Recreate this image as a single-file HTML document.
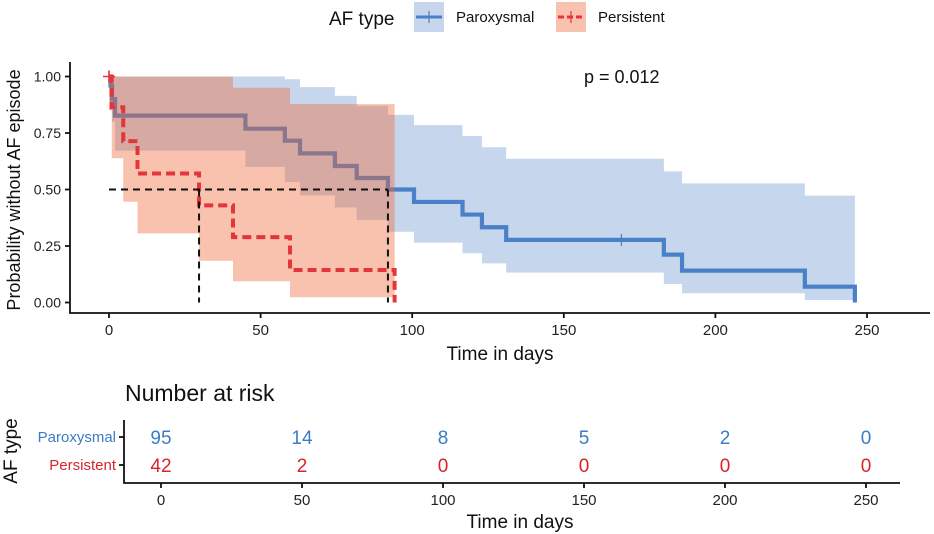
<!DOCTYPE html>
<html><head><meta charset="utf-8"><style>
body{margin:0;background:#fff;}
svg{display:block;font-family:"Liberation Sans",sans-serif;}
</style></head><body>
<svg id="c" width="934" height="534" viewBox="0 0 934 534">
<g id="legend">
  <text x="329" y="25" font-size="19" fill="#111">AF type</text>
  <g>
    <rect x="414" y="2" width="30" height="30" fill="rgb(199,214,237)"/>
    <line x1="416" y1="17" x2="442" y2="17" stroke="#4a80c8" stroke-width="3"/>
    <line x1="429" y1="11" x2="429" y2="23" stroke="#4a80c8" stroke-width="1.2"/>
    <text x="456" y="22" font-size="15" fill="#111">Paroxysmal</text>
  </g>
  <g>
    <rect x="556" y="2" width="30" height="30" fill="rgb(248,194,174)"/>
    <line x1="558" y1="17" x2="584" y2="17" stroke="#e8343a" stroke-width="3" stroke-dasharray="6,3"/>
    <line x1="571" y1="11" x2="571" y2="23" stroke="#e8343a" stroke-width="1.2"/>
    <text x="598" y="22" font-size="15" fill="#111">Persistent</text>
  </g>
</g>
<g id="plot"></g>
<g id="risk"></g>
</svg>
<script>
// Paroxysmal step data (time of level start, survival, CI)
const paraTimes = [0, 0.5, 1, 2, 45, 58, 63, 74.5, 81.7, 92, 100.6, 116.6, 123, 131, 183, 189, 229.5, 246];
const paraSurv  = [1, 0.96, 0.9, 0.827, 0.769, 0.716, 0.66, 0.604, 0.551, 0.5, 0.445, 0.389, 0.333, 0.277, 0.212, 0.141, 0.07, 0];
const paraUpper = [1, 1, 1, 1, 1, 0.988, 0.953, 0.914, 0.87, 0.83, 0.785, 0.737, 0.687, 0.636, 0.58, 0.527, 0.473, 0.439];
const paraLower = [1, 0.9, 0.8, 0.672, 0.6, 0.533, 0.474, 0.421, 0.365, 0.313, 0.265, 0.218, 0.173, 0.132, 0.082, 0.041, 0.011, 0];
const paraCensor = [0, 169];
// Persistent step data
const persTimes = [0, 0.9, 4.7, 9.4, 29.7, 40.9, 59.7, 94.2];
const persSurv  = [1, 0.864, 0.714, 0.571, 0.43, 0.289, 0.144, 0];
const persUpper = [1, 1, 1, 1, 1, 0.95, 0.878, 0.878];
const persLower = [0.85, 0.638, 0.446, 0.306, 0.185, 0.094, 0.023, 0.023];
const persCensor = [0];
const xTicks = [0, 50, 100, 150, 200, 250];
const yTicks = [0, 0.25, 0.5, 0.75, 1];
const yTickLabels = ["0.00", "0.25", "0.50", "0.75", "1.00"];
const riskPara = [95, 14, 8, 5, 2, 0];
const riskPers = [42, 2, 0, 0, 0, 0];
const medianTimes = [29.7, 92];

const NS = "http://www.w3.org/2000/svg";
const X = d => 109 + d * 3.032;
const Y = s => 302.5 - s * 226;
const RX = d => 161 + d * 2.82;
function mk(tag, attrs, parent){const e=document.createElementNS(NS,tag);for(const k in attrs)e.setAttribute(k,attrs[k]);parent.appendChild(e);return e;}
const plot = document.getElementById('plot');
const risk = document.getElementById('risk');

function stepPath(times, vals, end){
  let d = `M${X(times[0])},${Y(vals[0])}`;
  for(let i=1;i<times.length;i++){d+=` H${X(times[i])} V${Y(vals[i])}`;}
  if(end!==undefined) d+=` H${X(end)}`;
  return d;
}
function ribbon(times, up, lo){
  let d = `M${X(times[0])},${Y(up[0])}`;
  for(let i=1;i<times.length;i++){d+=` H${X(times[i])} V${Y(up[i])}`;}
  d += ` V${Y(lo[lo.length-1])}`;
  for(let i=times.length-1;i>0;i--){d+=` H${X(times[i])} V${Y(lo[i-1])}`;}
  d += ` H${X(times[0])} Z`;
  return d;
}
const pr = mk('path',{d:ribbon(paraTimes,paraUpper,paraLower),fill:'rgb(67,118,196)','fill-opacity':0.3},plot);


const pl = mk('path',{d:stepPath(paraTimes,paraSurv),fill:'none',stroke:'#4a80c8','stroke-width':4.2},plot);


paraCensor.forEach(t=>{
  let i=0;for(let k=0;k<paraTimes.length;k++)if(paraTimes[k]<=t)i=k;
  const c=mk('line',{x1:X(t),x2:X(t),y1:Y(paraSurv[i])-6,y2:Y(paraSurv[i])+6,stroke:'#4a80c8','stroke-width':1.3},plot);
  
  
});
const rr = mk('path',{d:ribbon(persTimes,persUpper,persLower),fill:'rgb(237,103,53)','fill-opacity':0.4},plot);


const rl = mk('path',{d:stepPath(persTimes,persSurv),fill:'none',stroke:'#e3363b','stroke-width':4,'stroke-dasharray':'9,5'},plot);


persCensor.forEach(t=>{
  const c=mk('path',{d:`M${X(t)-6},${Y(1)} H${X(t)+6} M${X(t)},${Y(1)-6} V${Y(1)+6}`,stroke:'#e8343a','stroke-width':1.5},plot);
  
  
});
const mh = mk('line',{x1:X(0),x2:X(medianTimes[1]),y1:Y(0.5),y2:Y(0.5),stroke:'#111','stroke-width':2,'stroke-dasharray':'7,5'},plot);


medianTimes.forEach(t=>{
  const v=mk('line',{x1:X(t),x2:X(t),y1:Y(0.5),y2:Y(0),stroke:'#111','stroke-width':2,'stroke-dasharray':'7,5'},plot);
  
  
});
const ax = mk('path',{d:'M70,62 V313 H930',fill:'none',stroke:'#111','stroke-width':1.8},plot);


yTicks.forEach((v,i)=>{
  mk('line',{x1:65,x2:70,y1:Y(v),y2:Y(v),stroke:'#111','stroke-width':1.8},plot);
  const t=mk('text',{x:61,y:Y(v)+5,'text-anchor':'end','font-size':14,fill:'#222'},plot);
  t.textContent=yTickLabels[i];
  
  
});
xTicks.forEach(v=>{
  mk('line',{x1:X(v),x2:X(v),y1:313,y2:318,stroke:'#111','stroke-width':1.8},plot);
  const t=mk('text',{x:X(v),y:335,'text-anchor':'middle','font-size':15,fill:'#222'},plot);
  t.textContent=v;
  
  
});
const xt=mk('text',{x:500,y:360,'text-anchor':'middle','font-size':19,fill:'#111'},plot);
xt.textContent='Time in days';


const yt=mk('text',{x:0,y:0,'text-anchor':'middle','font-size':18,fill:'#111',transform:'translate(20,190) rotate(-90)'},plot);
yt.textContent='Probability without AF episode';


const pv=mk('text',{x:584,y:83,'font-size':18,fill:'#111'},plot);
pv.textContent='p = 0.012';



const rt=mk('text',{x:125,y:401,'font-size':23,fill:'#111'},risk);
rt.textContent='Number at risk';


mk('path',{d:'M124,420 V483 H900',fill:'none',stroke:'#111','stroke-width':1.8},risk);
[[437,'Paroxysmal','#3d7cc4',riskPara],[465,'Persistent','#d9232b',riskPers]].forEach(([y,lab,col,arr])=>{
  mk('line',{x1:119,x2:124,y1:y,y2:y,stroke:'#111','stroke-width':1.8},risk);
  const l=mk('text',{x:116,y:y+5,'text-anchor':'end','font-size':15,fill:col},risk);
  l.textContent=lab;
  
  
  arr.forEach((n,i)=>{
    const t=mk('text',{x:RX(xTicks[i]),y:y+7,'text-anchor':'middle','font-size':19,fill:col},risk);
    t.textContent=n;
    
    
  });
});
xTicks.forEach(v=>{
  mk('line',{x1:RX(v),x2:RX(v),y1:483,y2:488,stroke:'#111','stroke-width':1.8},risk);
  const t=mk('text',{x:RX(v),y:505,'text-anchor':'middle','font-size':15,fill:'#222'},risk);
  t.textContent=v;
  
  
});
const rx=mk('text',{x:520,y:528,'text-anchor':'middle','font-size':19,fill:'#111'},risk);
rx.textContent='Time in days';


const ry=mk('text',{x:0,y:0,'text-anchor':'middle','font-size':19,fill:'#111',transform:'translate(17,451) rotate(-90)'},risk);
ry.textContent='AF type';


</script>
</body></html>
